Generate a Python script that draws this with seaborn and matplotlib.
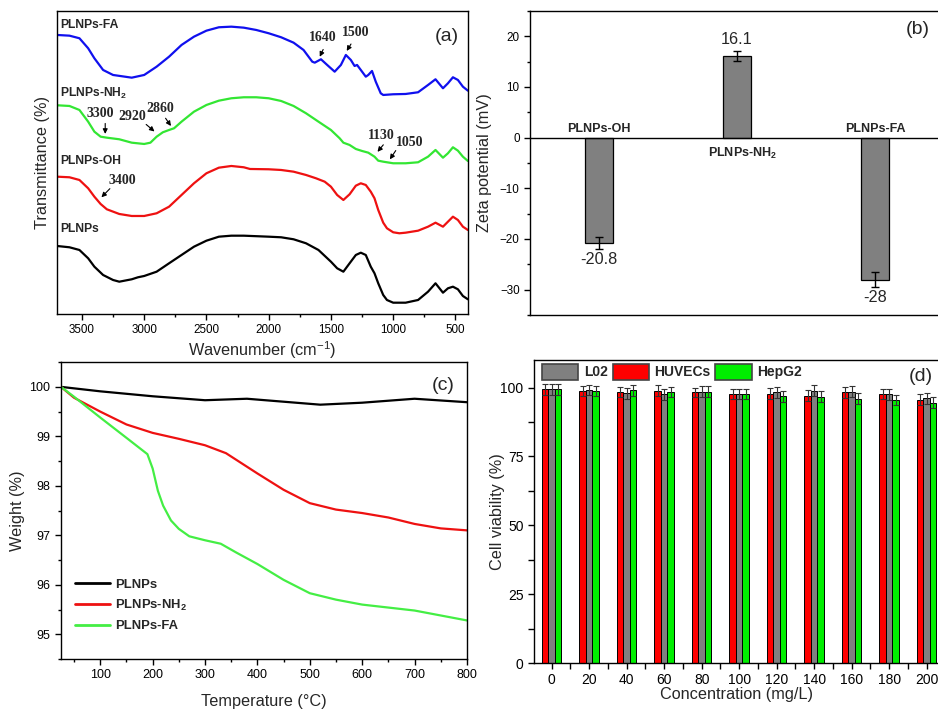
import numpy as np
import pandas as pd
import matplotlib
matplotlib.use("Agg")
import matplotlib.pyplot as plt
import seaborn as sns
from matplotlib.ticker import MultipleLocator, FixedLocator, NullLocator
from matplotlib.patches import Patch
from matplotlib.lines import Line2D

# ---- (a) FTIR spectra, offset transmittance (arbitrary units) ----
wn_fa = [3700, 3600, 3520, 3450, 3400, 3330, 3250, 3100, 3000, 2900, 2800, 2700, 2600,
         2500, 2400, 2300, 2200, 2100, 2000, 1900, 1800, 1720, 1650, 1630, 1580, 1530,
         1470, 1420, 1380, 1340, 1310, 1290, 1260, 1220, 1200, 1170, 1140, 1100, 1080,
         1000, 900, 800, 720, 660, 600, 560, 520, 480, 440, 400]
tr_fa = [279, 278.3, 275.7, 265.7, 255.7, 244, 239, 236.3, 239, 247.3, 257.3, 269, 277.3,
         283.3, 286.7, 287.3, 286.3, 284, 280.7, 276.7, 271.3, 264, 252.3, 251.3, 254.7, 249,
         242.3, 249, 259, 254, 248, 249, 244, 237.3, 239, 243, 232.3, 220.7, 219,
         219.7, 220, 221.7, 229, 234.7, 225.7, 230.7, 236.7, 234, 227.3, 223.3]

wn_nh2 = [3700, 3600, 3520, 3450, 3400, 3350, 3300, 3200, 3100, 3000, 2950, 2900, 2850,
          2800, 2760, 2700, 2600, 2500, 2400, 2300, 2200, 2100, 2000, 1900, 1800, 1700,
          1600, 1500, 1430, 1400, 1350, 1300, 1250, 1200, 1150, 1120, 1080, 1000, 900,
          800, 720, 660, 600, 560, 520, 480, 440, 400]
tr_nh2 = [208.7, 208, 204, 192.3, 182.3, 177.3, 176.3, 174.7, 171.3, 170, 171.3, 177.3, 181.7,
          184, 185.7, 192.3, 202.3, 209, 213.3, 215.7, 216.7, 216.7, 215.7, 213, 208, 200.7,
          192.3, 184, 175.7, 171.3, 169, 165, 163, 161.3, 157.3, 153.3, 152.3, 150.7, 150.7,
          151.7, 157.3, 164, 156.3, 160.7, 166.7, 163.3, 157.3, 153]

wn_oh = [3700, 3600, 3520, 3450, 3400, 3350, 3300, 3200, 3100, 3000, 2900, 2800, 2700,
         2600, 2500, 2400, 2300, 2200, 2150, 2000, 1900, 1800, 1700, 1620, 1550, 1500,
         1450, 1400, 1350, 1300, 1260, 1220, 1180, 1150, 1120, 1080, 1050, 1000, 950,
         900, 800, 720, 660, 600, 560, 520, 480, 440, 400]
tr_oh = [137.3, 136.7, 134, 125.7, 117.3, 110, 104.7, 100, 98, 98, 100.7, 107.3, 119,
         130.7, 140.7, 146.3, 148, 146.7, 145, 144.7, 144, 142.3, 139, 135.7, 132.3, 127.3,
         119, 114, 119.7, 128.3, 130.7, 129, 122.3, 115.7, 104, 91.3, 85.7, 81.7, 80.7,
         81.3, 83.3, 87.3, 91.3, 87.3, 92.3, 97.3, 94, 87.3, 84]

wn_bare = [3700, 3600, 3520, 3450, 3400, 3330, 3250, 3200, 3100, 3050, 3000, 2900, 2800,
           2700, 2600, 2500, 2400, 2300, 2200, 2000, 1900, 1800, 1700, 1600, 1500, 1450,
           1400, 1350, 1300, 1260, 1220, 1180, 1150, 1120, 1080, 1050, 1000, 900, 800,
           720, 660, 600, 560, 520, 480, 440, 400]
tr_bare = [68, 66.7, 64, 55.7, 47.3, 39, 34, 32.3, 34.7, 36.7, 38, 42.3, 50.7,
           59, 67.3, 73.3, 77.3, 78.3, 78.3, 77.3, 76.7, 74.7, 70.7, 64, 52.3, 45.7,
           42.3, 50.7, 59, 61.3, 59, 47.3, 40.7, 30.7, 19, 14, 11.3, 11.3, 14,
           22.3, 30.7, 21.3, 25.7, 27.3, 24.7, 18, 14.7]

# ---- (b) zeta potential ----
zeta_samples = ["PLNPs-OH", "PLNPs-NH2", "PLNPs-FA"]
zeta_mv = [-20.8, 16.1, -28.0]
zeta_err = [1.2, 1.0, 1.4]

# ---- (c) TGA ----
tga_t_bare = [25, 100, 200, 300, 380, 450, 520, 600, 700, 800]
tga_w_bare = [100.0, 99.91, 99.81, 99.73, 99.76, 99.70, 99.64, 99.68, 99.76, 99.69]
tga_t_nh2 = [25, 50, 100, 150, 200, 250, 300, 340, 400, 450, 500, 550, 600, 650, 700, 750, 800]
tga_w_nh2 = [100.0, 99.78, 99.5, 99.24, 99.07, 98.95, 98.82, 98.66, 98.25, 97.92, 97.65,
             97.52, 97.45, 97.36, 97.23, 97.14, 97.1]
tga_t_fa = [25, 50, 100, 150, 190, 200, 210, 220, 235, 250, 270, 300, 330, 360, 400, 450,
            500, 550, 600, 700, 800]
tga_w_fa = [100.0, 99.8, 99.38, 98.97, 98.64, 98.35, 97.9, 97.6, 97.3, 97.13, 96.98, 96.9,
            96.83, 96.65, 96.42, 96.1, 95.83, 95.7, 95.6, 95.48, 95.28]

# ---- (d) cell viability ----
conc = ["0", "20", "40", "60", "80", "100", "120", "140", "160", "180", "200"]
via_l02 = [99.4, 99.0, 97.9, 97.5, 98.5, 97.6, 98.3, 98.8, 98.5, 97.6, 96.1]
via_huvec = [99.4, 98.8, 98.4, 98.8, 98.2, 97.6, 97.8, 97.1, 98.3, 97.6, 95.5]
via_hepg2 = [99.4, 98.8, 99.0, 98.3, 98.5, 97.6, 96.9, 96.6, 96.0, 95.4, 94.4]
err_l02 = [2.0, 1.8, 1.9, 1.9, 2.0, 1.9, 2.0, 2.0, 2.0, 2.0, 2.0]
err_huvec = [2.0, 1.9, 1.9, 2.0, 1.8, 1.9, 2.0, 2.0, 2.0, 1.8, 2.0]
err_hepg2 = [2.0, 1.9, 1.9, 1.9, 2.0, 1.9, 2.0, 2.0, 2.0, 1.8, 2.0]

sns.set_style("ticks")
plt.rcParams["font.family"] = ["Liberation Sans", "DejaVu Sans"]
plt.rcParams["mathtext.default"] = "regular"
plt.rcParams["xtick.direction"] = "out"
plt.rcParams["ytick.direction"] = "out"
plt.rcParams["axes.edgecolor"] = "black"
plt.rcParams["axes.linewidth"] = 1.0
plt.rcParams["xtick.color"] = "black"
plt.rcParams["ytick.color"] = "black"

fig = plt.figure(figsize=(9.38, 7.12), dpi=100)
ax_a = fig.add_axes([0.0608, 0.559, 0.438, 0.4256])
ax_b = fig.add_axes([0.565, 0.5576, 0.435, 0.427])
ax_c = fig.add_axes([0.065, 0.0744, 0.4328, 0.417])
ax_d = fig.add_axes([0.5693, 0.0688, 0.4307, 0.4256])

lbl_font = 11.7

# ---------------- (a) ----------------
ftir = pd.concat([
    pd.DataFrame({"wn": wn_bare, "T": tr_bare, "s": "PLNPs"}),
    pd.DataFrame({"wn": wn_oh, "T": tr_oh, "s": "PLNPs-OH"}),
    pd.DataFrame({"wn": wn_nh2, "T": tr_nh2, "s": "PLNPs-NH2"}),
    pd.DataFrame({"wn": wn_fa, "T": tr_fa, "s": "PLNPs-FA"}),
])
ftir_pal = {"PLNPs": "black", "PLNPs-OH": "#ee1111", "PLNPs-NH2": "#33e633", "PLNPs-FA": "#1010ee"}
sns.lineplot(data=ftir, x="wn", y="T", hue="s", palette=ftir_pal, estimator=None,
             linewidth=1.6, legend=False, ax=ax_a)
ax_a.set_xlim(3700, 400)
ax_a.set_ylim(0, 303)
ax_a.xaxis.set_major_locator(MultipleLocator(500))
ax_a.xaxis.set_minor_locator(MultipleLocator(250))
ax_a.yaxis.set_major_locator(NullLocator())
ax_a.tick_params(axis="x", labelsize=8.4, length=4, width=1)
ax_a.tick_params(axis="x", which="minor", length=2.5, width=1)
ax_a.set_xlabel("Wavenumber (cm$^{-1}$)", fontsize=lbl_font)
ax_a.set_ylabel("Transmittance (%)", fontsize=lbl_font)
ax_a.xaxis.set_label_coords(0.5, -0.085)
ax_a.yaxis.set_label_coords(-0.018, 0.5)
for s in ["top", "right"]:
    ax_a.spines[s].set_visible(True)

for txt, yv in [("PLNPs-FA", 289), ("PLNPs-NH$_2$", 220.7), ("PLNPs-OH", 153), ("PLNPs", 85.3)]:
    ax_a.text(3676, yv, txt, fontsize=8.7, fontweight="bold", ha="left", va="center")

annots = [("1640", (1567, 276.7), (1553, 267), (1599, 254.7)),
          ("1500", (1300, 281.7), (1327, 272.3), (1385, 260.7)),
          ("3300", (3353, 200.7), (3313, 193.3), (3313, 177.3)),
          ("2920", (3092, 197.3), (3001, 191.3), (2900, 180.7)),
          ("2860", (2873, 205.3), (2841, 198), (2772, 185.7)),
          ("1130", (1092, 178.3), (1065, 171.3), (1140, 160)),
          ("1050", (868, 171.3), (967, 165.7), (1039, 152.3)),
          ("3400", (3177, 133.3), (3260, 127.3), (3359, 114.7))]
for txt, tpos, tail, tip in annots:
    ax_a.text(tpos[0], tpos[1], txt, fontsize=10, fontweight="bold",
              family=["Liberation Serif", "DejaVu Serif"], ha="center", va="center")
    ax_a.annotate("", xy=tip, xytext=tail,
                  arrowprops=dict(arrowstyle="-|>", color="black", lw=0.8, mutation_scale=7))
ax_a.text(0.949, 0.917, "(a)", transform=ax_a.transAxes, fontsize=14, ha="center", va="center")

# ---------------- (b) ----------------
zeta = pd.DataFrame({"sample": zeta_samples, "zeta": zeta_mv})
sns.barplot(data=zeta, x="sample", y="zeta", color="#808080", saturation=1, width=0.2,
            edgecolor="black", linewidth=0.9, errorbar=None, ax=ax_b)
ax_b.errorbar(range(len(zeta_mv)), zeta_mv, yerr=zeta_err, fmt="none", ecolor="black",
              elinewidth=1, capsize=3, capthick=1)
ax_b.axhline(0, color="black", lw=1)
ax_b.set_xlim(-0.5, 2.457)
ax_b.set_ylim(-35, 25)
ax_b.yaxis.set_major_locator(MultipleLocator(10))
ax_b.yaxis.set_minor_locator(MultipleLocator(5))
ax_b.tick_params(axis="y", labelsize=8.4, length=4, width=1)
ax_b.tick_params(axis="y", which="minor", length=2.5, width=1)
ax_b.tick_params(axis="x", bottom=False, labelbottom=False)
ax_b.set_xlabel("")
ax_b.set_ylabel("Zeta potential (mV)", fontsize=lbl_font)
ax_b.yaxis.set_label_coords(-0.093, 0.5)
ax_b.spines["right"].set_visible(False)
ax_b.spines["top"].set_visible(True)

ax_b.text(0, 0.5, "PLNPs-OH", fontsize=9, fontweight="bold", ha="center", va="bottom")
ax_b.text(1.04, -1.6, "PLNPs-NH$_2$", fontsize=9, fontweight="bold", ha="center", va="top")
ax_b.text(2, 0.5, "PLNPs-FA", fontsize=9, fontweight="bold", ha="center", va="bottom")
for i, (v, e) in enumerate(zip(zeta_mv, zeta_err)):
    lab = "%g" % v
    if v > 0:
        ax_b.text(i, v + e + 0.8, lab, fontsize=11.7, ha="center", va="bottom")
    else:
        ax_b.text(i, v - e - 0.6, lab, fontsize=11.7, ha="center", va="top")
ax_b.text(0.951, 0.9375, "(b)", transform=ax_b.transAxes, fontsize=14, ha="center", va="center")

# ---------------- (c) ----------------
tga = pd.concat([
    pd.DataFrame({"T": tga_t_bare, "w": tga_w_bare, "s": "PLNPs"}),
    pd.DataFrame({"T": tga_t_nh2, "w": tga_w_nh2, "s": "PLNPs-NH$_2$"}),
    pd.DataFrame({"T": tga_t_fa, "w": tga_w_fa, "s": "PLNPs-FA"}),
])
tga_pal = {"PLNPs": "black", "PLNPs-NH$_2$": "#ee1111", "PLNPs-FA": "#44ee44"}
sns.lineplot(data=tga, x="T", y="w", hue="s", palette=tga_pal, estimator=None,
             linewidth=1.6, ax=ax_c)
ax_c.set_xlim(25, 800)
ax_c.set_ylim(94.5, 100.5)
ax_c.xaxis.set_major_locator(MultipleLocator(100))
ax_c.xaxis.set_minor_locator(MultipleLocator(50))
ax_c.yaxis.set_major_locator(MultipleLocator(1))
ax_c.yaxis.set_minor_locator(MultipleLocator(0.5))
ax_c.tick_params(labelsize=9, length=4, width=1)
ax_c.tick_params(which="minor", length=2.5, width=1)
ax_c.set_xlabel("Temperature (°C)", fontsize=lbl_font)
ax_c.set_ylabel("Weight (%)", fontsize=lbl_font)
ax_c.xaxis.set_label_coords(0.5, -0.118)
ax_c.yaxis.set_label_coords(-0.089, 0.5)
for s in ["top", "right"]:
    ax_c.spines[s].set_visible(True)
leg_c = ax_c.legend(loc="upper left", bbox_to_anchor=(0.005, 0.31), frameon=False,
                    handlelength=2.7, labelspacing=0.55, handletextpad=0.4,
                    prop={"weight": "bold", "size": 9.4})
for ln in leg_c.get_lines():
    ln.set_linewidth(2)
ax_c.text(0.941, 0.9226, "(c)", transform=ax_c.transAxes, fontsize=14, ha="center", va="center")

# ---------------- (d) ----------------
cells_order = ["HUVECs", "L02", "HepG2"]
cell_pal = {"L02": "#808080", "HUVECs": "#ff0000", "HepG2": "#00ee00"}
via = pd.concat([
    pd.DataFrame({"conc": conc, "v": via_huvec, "e": err_huvec, "cell": "HUVECs"}),
    pd.DataFrame({"conc": conc, "v": via_l02, "e": err_l02, "cell": "L02"}),
    pd.DataFrame({"conc": conc, "v": via_hepg2, "e": err_hepg2, "cell": "HepG2"}),
])
sns.barplot(data=via, x="conc", y="v", hue="cell", order=conc, hue_order=cells_order,
            palette=cell_pal, saturation=1, width=0.52, edgecolor="black", linewidth=0.7,
            errorbar=None, legend=False, ax=ax_d)
for cont, cell in zip(ax_d.containers, cells_order):
    sub = via[via["cell"] == cell]
    xs = [b.get_x() + b.get_width() / 2 for b in cont]
    ax_d.errorbar(xs, sub["v"].values, yerr=sub["e"].values, fmt="none", ecolor="#333333",
                  elinewidth=0.8, capsize=2.4, capthick=0.8)
ax_d.set_xlim(-0.47, 10.3)
ax_d.set_ylim(0, 110)
ax_d.yaxis.set_major_locator(MultipleLocator(25))
ax_d.yaxis.set_minor_locator(MultipleLocator(12.5))
ax_d.xaxis.set_minor_locator(FixedLocator(np.arange(0.5, 10, 1)))
ax_d.tick_params(labelsize=10, length=4, width=1)
ax_d.tick_params(which="minor", length=4, width=1)
ax_d.set_xlabel("Concentration (mg/L)", fontsize=lbl_font)
ax_d.set_ylabel("Cell viability (%)", fontsize=lbl_font)
ax_d.xaxis.set_label_coords(0.5, -0.08)
ax_d.yaxis.set_label_coords(-0.072, 0.5)
ax_d.spines["right"].set_visible(False)
ax_d.spines["top"].set_visible(True)
handles = [Patch(facecolor=cell_pal[c], edgecolor="#444444", linewidth=1.2, label=c)
           for c in ["L02", "HUVECs", "HepG2"]]
ax_d.legend(handles=handles, loc="upper left", bbox_to_anchor=(0.0, 1.015), ncol=3,
            frameon=False, handlelength=2.6, handleheight=1.4, handletextpad=0.4,
            columnspacing=0.35, borderaxespad=0.2, prop={"weight": "bold", "size": 10})
ax_d.text(0.958, 0.944, "(d)", transform=ax_d.transAxes, fontsize=14, ha="center", va="center")

fig.savefig("out.png", dpi=100)
